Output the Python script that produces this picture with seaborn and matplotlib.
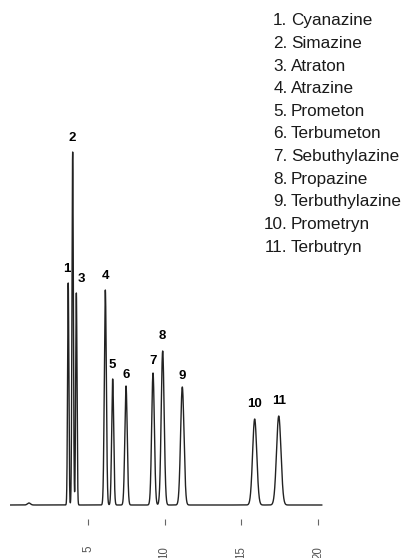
import numpy as np
import pandas as pd
import matplotlib
matplotlib.use("Agg")
import matplotlib.pyplot as plt
from matplotlib import font_manager as fm
import seaborn as sns

# ---- data ----
peak_ids = [1, 2, 3, 4, 5, 6, 7, 8, 9, 10, 11]
compounds = ["Cyanazine", "Simazine", "Atraton", "Atrazine", "Prometon",
             "Terbumeton", "Sebuthylazine", "Propazine", "Terbuthylazine",
             "Prometryn", "Terbutryn"]
retention_min = [3.71, 4.00, 4.24, 6.13, 6.61, 7.48, 9.24, 9.87, 11.15, 15.87, 17.44]
peak_height = [222, 353, 212, 215, 126, 119, 132, 154, 118, 86, 89]
peak_sigma = [0.042, 0.045, 0.043, 0.066, 0.066, 0.078, 0.088, 0.096, 0.110, 0.135, 0.145]
minor_rt = [1.15]
minor_height = [2.0]
minor_sigma = [0.10]
tick_values = [5, 10, 15, 20]
tick_labels = ["5", "10", "15", "20"]

# ---- build the detector trace from the peak table ----
t = np.linspace(-0.1, 20.26, 8000)
signal = np.zeros_like(t)
for rt, h, s in zip(retention_min + minor_rt, peak_height + minor_height,
                    peak_sigma + minor_sigma):
    signal += h * np.exp(-0.5 * ((t - rt) / s) ** 2)
df = pd.DataFrame({"time": t, "signal": signal})

sns.set_style("white")


def find_font(stem):
    for f in fm.fontManager.ttflist:
        base = f.fname.split("/")[-1]
        if base.startswith(stem):
            return f.fname
    return None


reg_path = find_font("LiberationSans-Regular")
bold_path = find_font("LiberationSans-Bold.")
fp_reg = fm.FontProperties(fname=reg_path) if reg_path else fm.FontProperties(family="DejaVu Sans")
fp_bold = fm.FontProperties(fname=bold_path) if bold_path else fm.FontProperties(family="DejaVu Sans", weight="bold")
if reg_path:
    plt.rcParams["font.family"] = [fp_reg.get_name(), "DejaVu Sans"]

W, H = 404, 558
fig = plt.figure(figsize=(W / 100, H / 100), dpi=100)
ax = fig.add_axes([9.8 / W, (H - 525) / H, (322.6 - 9.8) / W, (525 - 130) / H])

sns.lineplot(data=df, x="time", y="signal", ax=ax, color="#222222",
             linewidth=1.0, estimator=None, sort=False)

ax.set_xlim(-0.1, 20.3)
ax.set_ylim(-20, 375)
for sp in ax.spines.values():
    sp.set_visible(False)
ax.set_yticks([])
ax.set_xticks(tick_values)
ax.set_xticklabels(tick_labels, rotation=90, color="#555555")
for lbl in ax.get_xticklabels():
    lbl.set_fontproperties(fp_reg)
    lbl.set_fontsize(8.3)
ax.tick_params(axis="x", direction="in", length=4.5, width=0.8,
               color="#666666", pad=15, bottom=True)
ax.set_xlabel("")
ax.set_ylabel("")

# peak number labels
label_dx = {1: -0.7, 3: 3.6}
label_dy = {6: 7.8, 7: 8.5, 9: 8.2, 8: 11.0, 10: 10.8, 11: 10.8}
for pid, rt, h in zip(peak_ids, retention_min, peak_height):
    a = ax.annotate(str(pid), xy=(rt, h),
                    xytext=(label_dx.get(pid, 0), label_dy.get(pid, 9.8)),
                    textcoords="offset points", ha="center", va="center",
                    color="black", annotation_clip=False)
    a.set_fontproperties(fp_bold)
    a.set_fontsize(9.5)

# compound list (top right)
for i, (pid, name) in enumerate(zip(peak_ids, compounds)):
    y = 1 - (20.7 + i * 22.66) / H
    t1 = fig.text(287.5 / W, y, f"{pid}.", ha="right", va="center", color="#1a1a1a")
    t2 = fig.text(291.0 / W, y, name, ha="left", va="center", color="#1a1a1a")
    for tx in (t1, t2):
        tx.set_fontproperties(fp_reg)
        tx.set_fontsize(12.3)

fig.savefig("out.png", dpi=100)
